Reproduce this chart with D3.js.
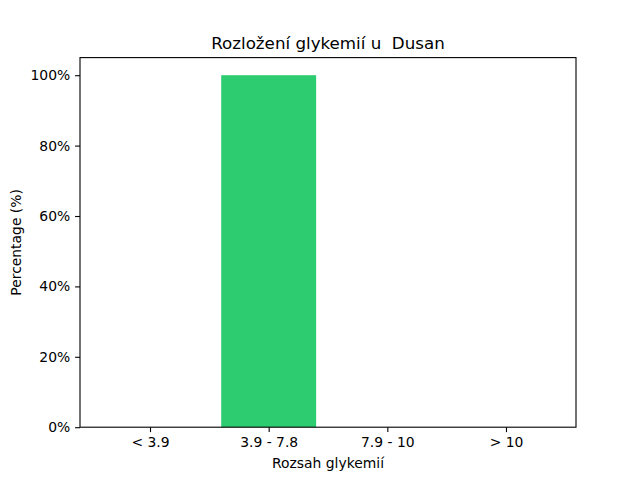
<!DOCTYPE html>
<html><head><meta charset="utf-8">
<script src="https://cdn.jsdelivr.net/npm/d3@7"></script>
<style>body{margin:0;background:#fff}svg{display:block}text{font-family:"DejaVu Sans",sans-serif;fill:#000}</style>
</head><body>
<svg id="c" width="640" height="480"></svg>
<script>
const categories = ["< 3.9", "3.9 - 7.8", "7.9 - 10", "> 10"];
const values = [0, 100, 0, 0];
const yTicks = [0, 20, 40, 60, 80, 100];
const title = "Rozložení glykemií u  Dusan";
const xLabel = "Rozsah glykemií";
const yLabel = "Percentage (%)";

const W = 640, H = 480;
const m = {l: 80, r: 576, t: 57.6, b: 427.2};
const svg = d3.select("#c");
svg.append("rect").attr("width", W).attr("height", H).attr("fill", "#fff");

const x = d3.scaleLinear().domain([-0.59, categories.length - 1 + 0.59]).range([m.l, m.r]);
const y = d3.scaleLinear().domain([0, 105]).range([m.b, m.t]);

svg.append("g").selectAll("rect").data(values).join("rect")
  .attr("x", (d, i) => x(i - 0.4))
  .attr("width", (d, i) => x(i + 0.4) - x(i - 0.4))
  .attr("y", d => y(d))
  .attr("height", d => y(0) - y(d))
  .attr("fill", "#2ecc71");

const xAxis = svg.append("g").attr("transform", `translate(0,${m.b})`)
  .call(d3.axisBottom(x).tickValues(d3.range(categories.length)).tickFormat(i => categories[i]).tickSize(4.9).tickPadding(4.9));
const yAxis = svg.append("g").attr("transform", `translate(${m.l},0)`)
  .call(d3.axisLeft(y).tickValues(yTicks).tickFormat(d => d + "%").tickSize(4.9).tickPadding(4.9));
[xAxis, yAxis].forEach(g => {
  g.select(".domain").remove();
  g.selectAll("line").attr("stroke", "#000").attr("stroke-width", 1.1);
  g.selectAll("text").attr("font-size", 13.9).attr("font-family", "DejaVu Sans");
});

svg.append("rect").attr("x", m.l).attr("y", m.t).attr("width", m.r - m.l).attr("height", m.b - m.t)
  .attr("fill", "none").attr("stroke", "#000").attr("stroke-width", 1.1);

svg.append("text").attr("x", (m.l + m.r) / 2).attr("y", 49).attr("text-anchor", "middle")
  .attr("font-size", 16.7).style("white-space", "pre").text(title);
svg.append("text").attr("x", (m.l + m.r) / 2).attr("y", 468).attr("text-anchor", "middle")
  .attr("font-size", 13.9).text(xLabel);
svg.append("text").attr("transform", `translate(21,${(m.t + m.b) / 2}) rotate(-90)`).attr("text-anchor", "middle")
  .attr("font-size", 13.9).text(yLabel);
</script>
</body></html>
